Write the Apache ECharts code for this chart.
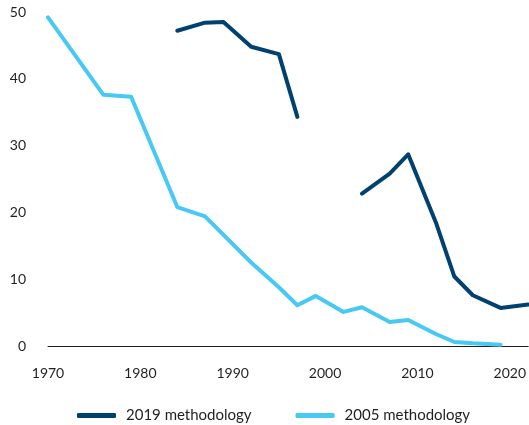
<!DOCTYPE html>
<html>
<head>
<meta charset="utf-8">
<script src="https://cdn.jsdelivr.net/npm/echarts@6/dist/echarts.min.js"></script>
<style>
html, body { margin: 0; padding: 0; background: #fff; }
#chart { width: 529px; height: 425px; }
</style>
</head>
<body>
<div id="chart"></div>
<script>
// 2019 methodology: two separate runs, null makes the gap
var years2019 = [1984, 1987, 1989, 1992, 1995, 1997, 2004, 2007, 2009, 2012, 2014, 2016, 2019, 2022];
var values2019 = [47.2, 48.4, 48.5, 44.8, 43.7, 34.3, null, 22.8, 25.8, 28.7, 18.5, 10.4, 7.6, 5.7, 6.2];
// 2005 methodology
var years2005 = [1970, 1976, 1979, 1984, 1987, 1992, 1995, 1997, 1999, 2002, 2004, 2007, 2009, 2012, 2014, 2016, 2019];
var values2005 = [49.2, 37.6, 37.3, 20.8, 19.4, 12.5, 8.8, 6.1, 7.5, 5.1, 5.8, 3.6, 3.9, 1.8, 0.6, 0.4, 0.2];
var yTicks = [0, 10, 20, 30, 40, 50];
var xTicks = [1970, 1980, 1990, 2000, 2010, 2020];

var gapYear = 2000; // where the 2019 series breaks
function pairs(xs, ys) {
    var out = [];
    var j = 0;
    for (var i = 0; i < ys.length; i++) {
        if (ys[i] === null) { out.push([gapYear, null]); continue; }
        out.push([xs[j], ys[i]]);
        j++;
    }
    return out;
}

var font = 'Lato, "Open Sans", sans-serif';
var chart = echarts.init(document.getElementById('chart'));
chart.setOption({
    animation: false,
    color: ['#004170', '#48c9f4'],
    grid: { left: 48, right: 0, top: 12, bottom: 79 },
    legend: {
        top: 403,
        left: 72,
        itemWidth: 39,
        itemHeight: 5,
        itemGap: 44,
        icon: 'roundRect',
        textStyle: { fontFamily: font, fontSize: 15, color: '#231f20', padding: [0, 0, 0, 5] },
        data: ['2019 methodology', '2005 methodology']
    },
    xAxis: {
        type: 'value',
        min: 1970,
        max: 2022,
        interval: 10,
        axisLine: { show: true, lineStyle: { color: '#231f20', width: 1 } },
        axisTick: { show: false },
        splitLine: { show: false },
        axisLabel: {
            margin: 20,
            fontFamily: font, fontSize: 14, color: '#231f20',
            customValues: xTicks,
            formatter: function (v) { return String(v); }
        }
    },
    yAxis: {
        type: 'value',
        min: 0,
        max: 50,
        interval: 10,
        axisLine: { show: false },
        axisTick: { show: false },
        splitLine: { show: false },
        axisLabel: {
            margin: 22,
            fontFamily: font, fontSize: 14, color: '#231f20',
            customValues: yTicks
        }
    },
    series: [
        {
            name: '2019 methodology',
            type: 'line',
            data: pairs(years2019, values2019),
            showSymbol: false,
            connectNulls: false,
            lineStyle: { width: 4, cap: 'round', join: 'round' },
            z: 3
        },
        {
            name: '2005 methodology',
            type: 'line',
            data: pairs(years2005, values2005),
            showSymbol: false,
            lineStyle: { width: 4, cap: 'round', join: 'round' },
            z: 2
        }
    ]
});
</script>
</body>
</html>
